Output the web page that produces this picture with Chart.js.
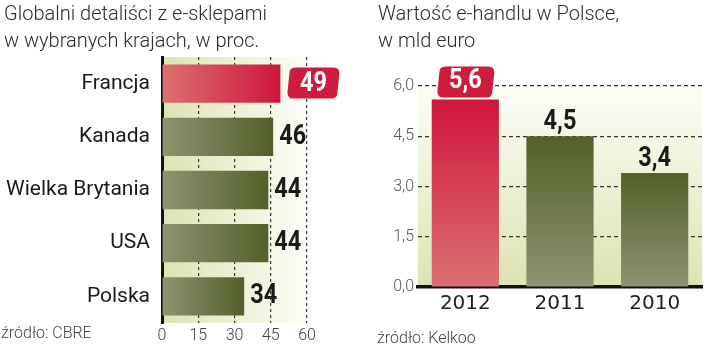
<!DOCTYPE html>
<html>
<head>
<meta charset="utf-8">
<script src="https://cdn.jsdelivr.net/npm/chart.js@4.4.0/dist/chart.umd.min.js"></script>
<style>
  body { margin: 0; background: #fff; width: 720px; height: 348px; overflow: hidden; position: relative; font-family: Roboto, sans-serif; }
  canvas { position: absolute; top: 0; }
  .title { position: absolute; font-weight: 300; font-size: 20px; line-height: 27px; color: #2b2b2b; white-space: nowrap; }
  .src { position: absolute; font-weight: 300; font-size: 16px; color: #444; white-space: nowrap; }
</style>
</head>
<body>
<canvas id="shares-chart" width="360" height="348" style="left:0"></canvas>
<canvas id="sales-chart" width="360" height="348" style="left:360px"></canvas>
<div class="title" style="left:4px;top:0px">Globalni detaliści z e-sklepami<br>w wybranych krajach, w proc.</div>
<div class="title" style="left:378px;top:0px">Wartość e-handlu w Polsce,<br>w mld euro</div>
<div class="src" style="left:1px;top:323px">źródło: CBRE</div>
<div class="src" style="left:377px;top:328px">źródło: Kelkoo</div>
<script>
// left chart: retailers with e-shops, percent
const countries = ['Francja', 'Kanada', 'Wielka Brytania', 'USA', 'Polska'];
const shares = [49, 46, 44, 44, 34];
const shareTicks = [0, 15, 30, 45, 60];

// right chart: e-commerce value in Poland, bn euro
const years = ['2012', '2011', '2010'];
const salesBn = [5.6, 4.5, 3.4];
const salesTicks = [0, 1.5, 3, 4.5, 6];

const highlightIndex = 0;
const boxRed = '#cf1b3d';

function plPct(v) { return v.toFixed(1).replace('.', ','); }

// gradient fill along each bar, light at the base, dark at the end
function barFill(valueAxis) {
  return function (c) {
    const chart = c.chart;
    const hi = c.dataIndex === highlightIndex;
    if (!chart.chartArea || c.type !== 'data') return hi ? boxRed : '#5a6530';
    const sc = chart.scales[valueAxis];
    const p0 = sc.getPixelForValue(0);
    const p1 = sc.getPixelForValue(c.raw);
    const g = valueAxis === 'x'
      ? chart.ctx.createLinearGradient(p0, 0, p1, 0)
      : chart.ctx.createLinearGradient(0, p0, 0, p1);
    g.addColorStop(0, hi ? '#dc7070' : '#8d9470');
    g.addColorStop(1, hi ? '#cf163b' : '#53602a');
    return g;
  };
}

const areaBg = {
  id: 'areaBg',
  beforeDraw(chart, args, opts) {
    const a = chart.chartArea;
    const ctx = chart.ctx;
    const g = opts.dir === 'h'
      ? ctx.createLinearGradient(a.left, 0, a.right, 0)
      : ctx.createLinearGradient(0, a.bottom, 0, a.top);
    g.addColorStop(0, '#dde3b0');
    g.addColorStop(1, '#fdfdf7');
    ctx.save();
    ctx.fillStyle = g;
    ctx.fillRect(a.left, a.top, a.right - a.left, a.bottom - a.top);
    ctx.restore();
  }
};

function roundBox(ctx, x, y, w, h, r) {
  ctx.beginPath();
  ctx.moveTo(x + r, y);
  ctx.lineTo(x + w - r, y);
  ctx.quadraticCurveTo(x + w, y, x + w, y + r);
  ctx.lineTo(x + w - 2, y + h - r);
  ctx.quadraticCurveTo(x + w - 2, y + h, x + w - r - 2, y + h);
  ctx.lineTo(x + r, y + h);
  ctx.quadraticCurveTo(x, y + h, x, y + h - r);
  ctx.lineTo(x + 2, y + r);
  ctx.quadraticCurveTo(x + 2, y, x + r + 2, y);
  ctx.closePath();
  ctx.fill();
}

// bold digits squeezed a bit to look like a condensed face
function narrowText(ctx, txt, x, y) {
  ctx.save();
  ctx.translate(x, y);
  ctx.scale(0.84, 1);
  ctx.fillText(txt, 0, 0);
  ctx.restore();
}

const valueLabels = {
  id: 'valueLabels',
  afterDraw(chart, args, opts) {
    const ctx = chart.ctx;
    const meta = chart.getDatasetMeta(0);
    const data = chart.data.datasets[0].data;
    ctx.save();
    ctx.font = 'bold 28px Roboto, sans-serif';
    meta.data.forEach(function (bar, i) {
      const txt = opts.format(data[i]);
      if (opts.horizontal) {
        ctx.textBaseline = 'middle';
        if (i === highlightIndex) {
          ctx.fillStyle = boxRed;
          roundBox(ctx, bar.x + 7, bar.y - 16, 52, 31, 6);
          ctx.fillStyle = '#fff';
          ctx.textAlign = 'center';
          narrowText(ctx, txt, bar.x + 33, bar.y);
        } else {
          ctx.fillStyle = '#1a1a1a';
          ctx.textAlign = 'left';
          narrowText(ctx, txt, bar.x + 6, bar.y);
        }
      } else {
        ctx.textAlign = 'center';
        if (i === highlightIndex) {
          ctx.fillStyle = boxRed;
          roundBox(ctx, bar.x - 28, bar.y - 33, 57, 31, 6);
          ctx.fillStyle = '#fff';
          ctx.textBaseline = 'middle';
          narrowText(ctx, txt, bar.x, bar.y - 18);
        } else {
          ctx.fillStyle = '#1a1a1a';
          ctx.textBaseline = 'alphabetic';
          narrowText(ctx, txt, bar.x, bar.y - 7);
        }
      }
    });
    ctx.restore();
  }
};

// Left chart
new Chart(document.getElementById('shares-chart'), {
  type: 'bar',
  data: {
    labels: countries,
    datasets: [{ data: shares, backgroundColor: barFill('x'), barPercentage: 0.72, categoryPercentage: 1 }]
  },
  options: {
    indexAxis: 'y',
    responsive: false,
    animation: false,
    layout: { padding: { top: 57, right: 53, bottom: 0, left: 0 } },
    plugins: {
      legend: { display: false },
      tooltip: { enabled: false },
      areaBg: { dir: 'h' },
      valueLabels: { horizontal: true, format: v => String(v) }
    },
    scales: {
      x: {
        min: 0, max: 60, z: 1,
        afterBuildTicks: s => { s.ticks = shareTicks.map(v => ({ value: v })); },
        afterFit: s => { s.height = 25; },
        grid: { color: c => c.tick && c.tick.value === 0 ? 'rgba(0,0,0,0)' : '#333', lineWidth: 1.2, drawTicks: false },
        border: { display: false, dash: [3, 3] },
        ticks: { padding: 3, maxRotation: 0, color: '#444', font: { family: 'Roboto', size: 16, weight: 300 } }
      },
      y: {
        z: 1,
        afterFit: s => { s.width = 162; },
        grid: { display: false, drawTicks: false },
        border: { display: true, color: '#111', width: 3 },
        ticks: { padding: 12, color: '#1a1a1a', font: { family: 'Roboto', size: 21 } }
      }
    }
  },
  plugins: [areaBg, valueLabels]
});

// Right chart
new Chart(document.getElementById('sales-chart'), {
  type: 'bar',
  data: {
    labels: years,
    datasets: [{ data: salesBn, backgroundColor: barFill('y'), barPercentage: 0.71, categoryPercentage: 1 }]
  },
  options: {
    responsive: false,
    animation: false,
    layout: { padding: { top: 86, right: 18, bottom: 0, left: 0 } },
    plugins: {
      legend: { display: false },
      tooltip: { enabled: false },
      areaBg: { dir: 'v' },
      valueLabels: { horizontal: false, format: plPct }
    },
    scales: {
      x: {
        z: 1,
        afterFit: s => { s.height = 61; },
        grid: { display: false, drawTicks: false },
        border: { display: true, color: '#111', width: 3.5 },
        ticks: { padding: 5, color: '#1e1e1e', font: { family: 'DejaVu Sans', size: 20 } }
      },
      y: {
        min: 0, max: 6,
        afterBuildTicks: s => { s.ticks = salesTicks.map(v => ({ value: v })); },
        afterFit: s => { s.width = 58; },
        grid: { color: c => c.tick && c.tick.value === 0 ? 'rgba(0,0,0,0)' : '#333', lineWidth: 1.2, drawTicks: false },
        border: { display: false, dash: [4, 3] },
        ticks: { padding: 4, color: '#555', callback: v => plPct(v), font: { family: 'Roboto', size: 16, weight: 300 } }
      }
    }
  },
  plugins: [areaBg, valueLabels]
});
</script>
</body>
</html>
